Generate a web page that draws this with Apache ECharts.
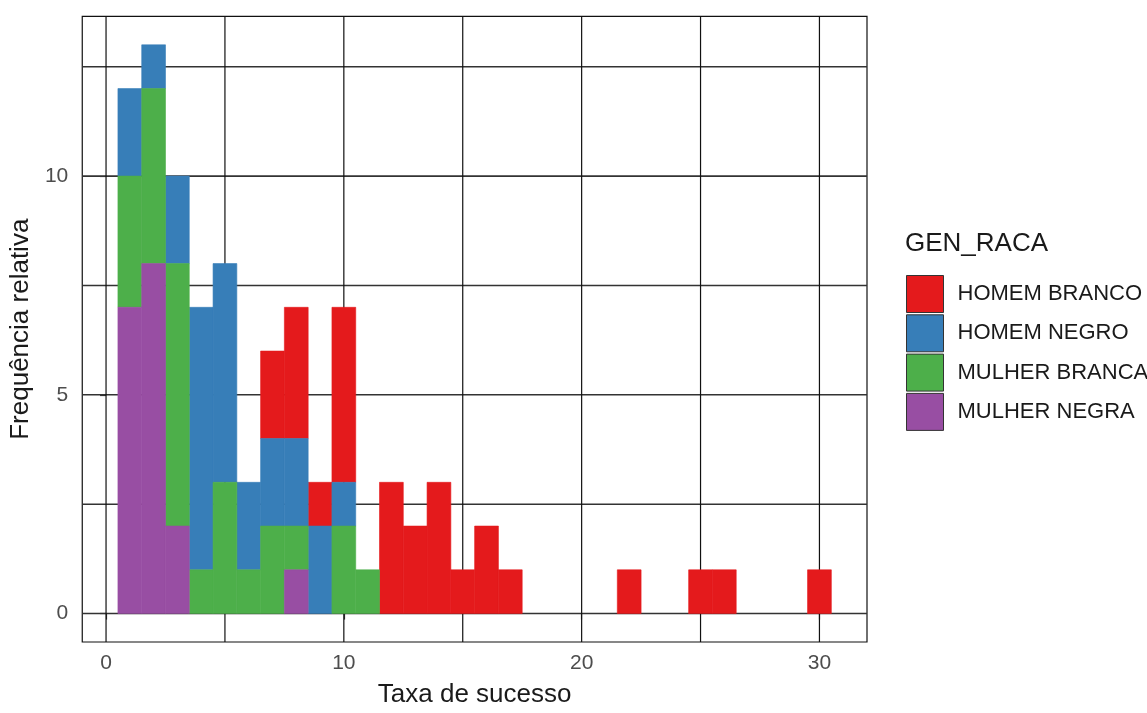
<!DOCTYPE html>
<html>
<head>
<meta charset="utf-8">
<script src="https://cdn.jsdelivr.net/npm/echarts@6/dist/echarts.min.js"></script>
<style>
  html, body { margin: 0; padding: 0; background: #fff; }
  #chart { width: 1147px; height: 713px; }
</style>
</head>
<body>
<div id="chart"></div>
<script>
// Bin centres (bin width = 1)
const bins = [1,2,3,4,5,6,7,8,9,10,11,12,13,14,15,16,17,18,19,20,21,22,23,24,25,26,27,28,29,30];

// Counts per bin for each group (stack order bottom -> top: MULHER NEGRA, MULHER BRANCA, HOMEM NEGRO, HOMEM BRANCO)
const homemBranco  = [0,0,0,0,0,0,2,3,1,4,0,3,2,3,1,2,1,0,0,0,0,1,0,0,1,1,0,0,0,1];
const homemNegro   = [2,1,2,6,5,2,2,2,2,1,0,0,0,0,0,0,0,0,0,0,0,0,0,0,0,0,0,0,0,0];
const mulherBranca = [3,4,6,1,3,1,2,1,0,2,1,0,0,0,0,0,0,0,0,0,0,0,0,0,0,0,0,0,0,0];
const mulherNegra  = [7,8,2,0,0,0,0,1,0,0,0,0,0,0,0,0,0,0,0,0,0,0,0,0,0,0,0,0,0,0];

const groupNames  = ['HOMEM BRANCO', 'HOMEM NEGRO', 'MULHER BRANCA', 'MULHER NEGRA'];
const groupColors = ['#E41A1C', '#377EB8', '#4DAF4A', '#984EA3'];

const xTicks = [0, 10, 20, 30];
const yTicks = [0, 5, 10];
const xGrid = [0, 5, 10, 15, 20, 25, 30];
const yGrid = [0, 2.5, 5, 7.5, 10, 12.5];

// Build stacked segments [x, base, top] per group
const groupValues = [homemBranco, homemNegro, mulherBranca, mulherNegra];
const stackOrder = [3, 2, 1, 0]; // bottom to top
const running = bins.map(() => 0);
const segments = {};
stackOrder.forEach(gi => {
  const vals = groupValues[gi];
  const segs = [];
  bins.forEach((b, i) => {
    const base = running[i];
    const top = base + vals[i];
    if (vals[i] > 0) segs.push([b, base, top]);
    running[i] = top;
  });
  segments[gi] = segs;
});

function renderBin(params, api) {
  const x = api.value(0);
  const p0 = api.coord([x - 0.5, api.value(2)]);
  const p1 = api.coord([x + 0.5, api.value(1)]);
  const color = api.visual('color');
  return {
    type: 'rect',
    shape: { x: p0[0], y: p0[1], width: p1[0] - p0[0], height: p1[1] - p0[1] },
    style: { fill: color, stroke: color, lineWidth: 0.6 }
  };
}

// Panel grid lines: item = [orientation (0 = horizontal, 1 = vertical), value]
const gridItems = [
  ...yGrid.map(v => [0, v]),
  ...xGrid.map(v => [1, v])
];
function renderGridLine(params, api) {
  const cs = params.coordSys;
  const dir = api.value(0);
  const v = api.value(1);
  if (dir === 0) {
    const y = api.coord([0, v])[1];
    return {
      type: 'line',
      shape: { x1: cs.x, y1: y, x2: cs.x + cs.width, y2: y },
      style: { stroke: '#333', lineWidth: 1.6 }
    };
  }
  const x = api.coord([v, 0])[0];
  return {
    type: 'line',
    shape: { x1: x, y1: cs.y, x2: x, y2: cs.y + cs.height },
    style: { stroke: '#111', lineWidth: 1.2 }
  };
}

const series = [{
  type: 'custom',
  z: 1,
  silent: true,
  renderItem: renderGridLine,
  encode: { x: 1, y: 1 },
  data: gridItems,
  animation: false
}];
groupNames.forEach((name, gi) => {
  series.push({
    name: name,
    type: 'custom',
    z: 3,
    renderItem: renderBin,
    itemStyle: { color: groupColors[gi] },
    encode: { x: 0, y: [1, 2] },
    data: segments[gi],
    animation: false
  });
});

const chart = echarts.init(document.getElementById('chart'), null, { renderer: 'canvas' });
chart.setOption({
  backgroundColor: '#fff',
  animation: false,
  title: {
    text: 'GEN_RACA',
    left: 905,
    top: 231,
    padding: 0,
    textStyle: { fontFamily: 'Liberation Sans, Arial, sans-serif', fontSize: 26, fontWeight: 'normal', color: '#1a1a1a' }
  },
  legend: {
    orient: 'vertical',
    left: 906,
    top: 275,
    padding: 0,
    itemWidth: 37,
    itemHeight: 37,
    itemGap: 1.3,
    icon: 'rect',
    textStyle: { fontFamily: 'Liberation Sans, Arial, sans-serif', fontSize: 22, color: '#1a1a1a', padding: [0, 0, 0, 9] },
    data: groupNames.map((n, i) => ({
      name: n,
      itemStyle: { color: groupColors[i], borderColor: '#333', borderWidth: 1 }
    }))
  },
  grid: {
    left: 79.5,
    right: 280,
    top: 16.4,
    bottom: 67,
    show: true,
    borderColor: '#111',
    borderWidth: 1.2,
    backgroundColor: 'transparent'
  },
  xAxis: {
    type: 'value',
    min: -1,
    max: 32,
    name: 'Taxa de sucesso',
    nameLocation: 'middle',
    nameGap: 40,
    nameTextStyle: { fontFamily: 'Liberation Sans, Arial, sans-serif', fontSize: 26, color: '#1a1a1a' },
    axisLine: { show: false },
    splitLine: { show: false },
    axisTick: { show: true, customValues: xTicks, length: 6, lineStyle: { color: '#333', width: 1.2 } },
    axisLabel: {
      customValues: xTicks,
      margin: 11,
      fontFamily: 'Liberation Sans, Arial, sans-serif',
      fontSize: 21,
      color: '#4d4d4d'
    }
  },
  yAxis: {
    type: 'value',
    min: -0.65,
    max: 13.65,
    name: 'Frequência relativa',
    nameLocation: 'middle',
    nameGap: 45,
    nameRotate: 90,
    nameTextStyle: { fontFamily: 'Liberation Sans, Arial, sans-serif', fontSize: 26, color: '#1a1a1a' },
    axisLine: { show: false },
    splitLine: { show: false },
    axisTick: { show: true, customValues: yTicks, length: 6, lineStyle: { color: '#333', width: 1.2 } },
    axisLabel: {
      customValues: yTicks,
      margin: 14,
      fontFamily: 'Liberation Sans, Arial, sans-serif',
      fontSize: 21,
      color: '#4d4d4d'
    }
  },
  series: series
});
</script>
</body>
</html>
